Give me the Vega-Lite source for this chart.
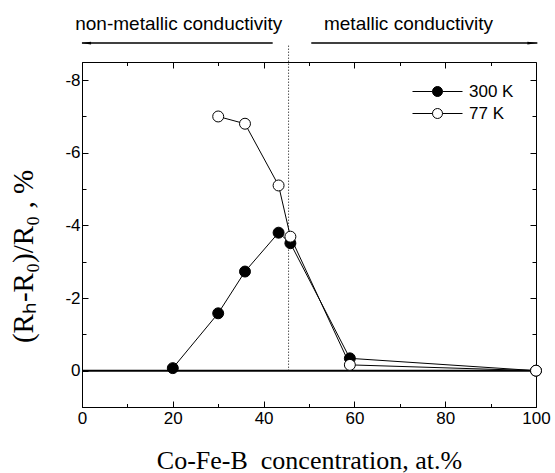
{
  "$schema": "https://vega.github.io/schema/vega-lite/v6.json",
  "autosize": {"type": "none"},
  "padding": {"left": 82, "top": 62, "right": 19, "bottom": 66},
  "width": 454,
  "height": 345,
  "background": "white",
  "config": {
    "view": {"stroke": "black", "strokeWidth": 1},
    "axis": {
      "domainColor": "black",
      "tickColor": "black",
      "ticks": true,
      "tickWidth": 1,
      "tickOpacity": 1,
      "zindex": 1,
      "labelColor": "black",
      "titleColor": "black",
      "labelFont": "Liberation Sans",
      "labelFontSize": 17,
      "titleFont": "Liberation Serif",
      "titleFontWeight": "normal",
      "grid": false
    },
    "legend": {
      "labelFont": "Liberation Sans",
      "labelFontSize": 17,
      "labelColor": "black"
    }
  },
  "datasets": {
    "series": [
      {"conc": 20, "value": -0.07, "series": "300 K"},
      {"conc": 30, "value": -1.58, "series": "300 K"},
      {"conc": 35.9, "value": -2.73, "series": "300 K"},
      {"conc": 43.3, "value": -3.8, "series": "300 K"},
      {"conc": 45.9, "value": -3.51, "series": "300 K"},
      {"conc": 59, "value": -0.34, "series": "300 K"},
      {"conc": 100, "value": 0, "series": "300 K"},
      {"conc": 30, "value": -7.0, "series": "77 K"},
      {"conc": 35.9, "value": -6.8, "series": "77 K"},
      {"conc": 43.3, "value": -5.1, "series": "77 K"},
      {"conc": 45.9, "value": -3.69, "series": "77 K"},
      {"conc": 59, "value": -0.16, "series": "77 K"},
      {"conc": 100, "value": 0, "series": "77 K"}
    ],
    "arrows": [
      {"start": 0, "end": 42, "tip": -0.2, "y": -9.02, "dir": "left"},
      {"start": 50.5, "end": 100.3, "tip": 100.3, "y": -9.02, "dir": "right"}
    ],
    "labels": [
      {"x": 21.3, "y": -9.37, "text": "non-metallic conductivity"},
      {"x": 71.9, "y": -9.37, "text": "metallic conductivity"}
    ]
  },
  "resolve": {"axis": {"x": "independent", "y": "independent"}},
  "layer": [
    {
      "data": {"name": "series"},
      "mark": {"type": "point", "opacity": 0},
      "encoding": {
        "x": {"field": "conc", "type": "quantitative", "scale": {"domain": [0, 100], "nice": false, "zero": false},
          "axis": {
            "orient": "top",
            "values": [0, 10, 20, 30, 40, 50, 60, 70, 80, 90, 100],
            "labels": false,
            "domain": false,
            "ticks": true,
            "title": null,
            "tickSize": {"condition": {"test": "datum.value % 20 === 0", "value": -6}, "value": -3.5}
          }
        },
        "y": {"field": "value", "type": "quantitative", "scale": {"domain": [-8.5, 1], "reverse": true, "nice": false, "zero": false},
          "axis": {
            "orient": "right",
            "values": [-8, -7, -6, -5, -4, -3, -2, -1, 0],
            "labels": false,
            "domain": false,
            "ticks": true,
            "title": null,
            "tickSize": {"condition": {"test": "datum.value % 2 === 0", "value": -6}, "value": -4}
          }
        }
      }
    },
    {
      "data": {"values": [{}]},
      "mark": {"type": "rule", "color": "black", "strokeWidth": 2},
      "encoding": {
        "x": {"datum": 0, "type": "quantitative", "axis": null},
        "x2": {"datum": 100},
        "y": {"datum": 0, "type": "quantitative", "axis": null}
      }
    },
    {
      "data": {"values": [{}]},
      "mark": {"type": "rule", "color": "black", "strokeWidth": 1, "strokeDash": [1, 2]},
      "encoding": {
        "x": {"datum": 45.5, "type": "quantitative", "axis": null},
        "y": {"datum": 0, "type": "quantitative", "axis": null},
        "y2": {"datum": -9.0}
      }
    },
    {
      "data": {"name": "arrows"},
      "mark": {"type": "rule", "color": "black", "strokeWidth": 1.5},
      "encoding": {
        "x": {"field": "start", "type": "quantitative", "axis": null},
        "x2": {"field": "end"},
        "y": {"field": "y", "type": "quantitative", "axis": null}
      }
    },
    {
      "data": {"name": "arrows"},
      "mark": {"type": "point", "filled": true, "color": "black", "size": 100, "opacity": 1},
      "encoding": {
        "x": {"field": "tip", "type": "quantitative", "axis": null},
        "y": {"field": "y", "type": "quantitative", "axis": null},
        "shape": {"field": "dir", "type": "nominal", "legend": null,
          "scale": {"domain": ["left", "right"], "range": ["M0,0 L2,-0.27 L2,0.27 Z", "M0,0 L-2,-0.27 L-2,0.27 Z"]}}
      }
    },
    {
      "data": {"name": "labels"},
      "mark": {"type": "text", "font": "Liberation Sans", "fontSize": 19, "color": "black", "align": "center", "baseline": "alphabetic"},
      "encoding": {
        "x": {"field": "x", "type": "quantitative", "axis": null},
        "y": {"field": "y", "type": "quantitative", "axis": null},
        "text": {"field": "text"}
      }
    },
    {
      "data": {"name": "series"},
      "mark": {"type": "line", "color": "black", "strokeWidth": 1},
      "encoding": {
        "x": {"field": "conc", "type": "quantitative", "axis": null},
        "y": {"field": "value", "type": "quantitative", "axis": null},
        "detail": {"field": "series", "type": "nominal"}
      }
    },
    {
      "data": {"name": "series"},
      "mark": {"type": "point", "shape": "circle", "filled": true, "stroke": "black", "strokeWidth": 1, "size": 120, "opacity": 1},
      "encoding": {
        "x": {"field": "conc", "type": "quantitative",
          "axis": {
            "orient": "bottom",
            "values": [0, 10, 20, 30, 40, 50, 60, 70, 80, 90, 100],
            "labelExpr": "datum.value % 20 === 0 ? '' + datum.value : ''",
            "ticks": true,
            "tickSize": {"condition": {"test": "datum.value % 20 === 0", "value": -6}, "value": -3.5},
            "labelPadding": 9,
            "labelFlush": false,
            "title": "Co-Fe-B\u00a0 concentration, at.%",
            "titleFontSize": 26,
            "titleBaseline": "alphabetic",
            "titleX": 227,
            "titleY": 61
          }
        },
        "y": {"field": "value", "type": "quantitative",
          "axis": {
            "orient": "left",
            "values": [-8, -7, -6, -5, -4, -3, -2, -1, 0],
            "labelExpr": "datum.value % 2 === 0 ? '' + datum.value : ''",
            "ticks": true,
            "tickSize": {"condition": {"test": "datum.value % 2 === 0", "value": -6}, "value": -4},
            "labelPadding": 8,
            "labelFlush": false,
            "title": "(Rₕ-R₀)/R₀ , %",
            "titleFontSize": 29,
            "titleAngle": 270,
            "titleAlign": "center",
            "titleBaseline": "alphabetic",
            "titleX": -50,
            "titleY": 194
          }
        },
        "fill": {"field": "series", "type": "nominal",
          "scale": {"domain": ["300 K", "77 K"], "range": ["black", "white"]},
          "legend": {
            "title": null,
            "orient": "none",
            "legendX": 345,
            "legendY": 19,
            "padding": 0,
            "symbolType": "M-2.5,0 L-0.5,0 M0.5,0 L2.5,0 M-0.5,0 A0.5,0.5 0 1 1 0.5,0 A0.5,0.5 0 1 1 -0.5,0 Z",
            "symbolSize": 400,
            "symbolStrokeColor": "black",
            "symbolStrokeWidth": 1,
            "labelOffset": 21,
            "rowPadding": 3
          }
        }
      }
    }
  ]
}
